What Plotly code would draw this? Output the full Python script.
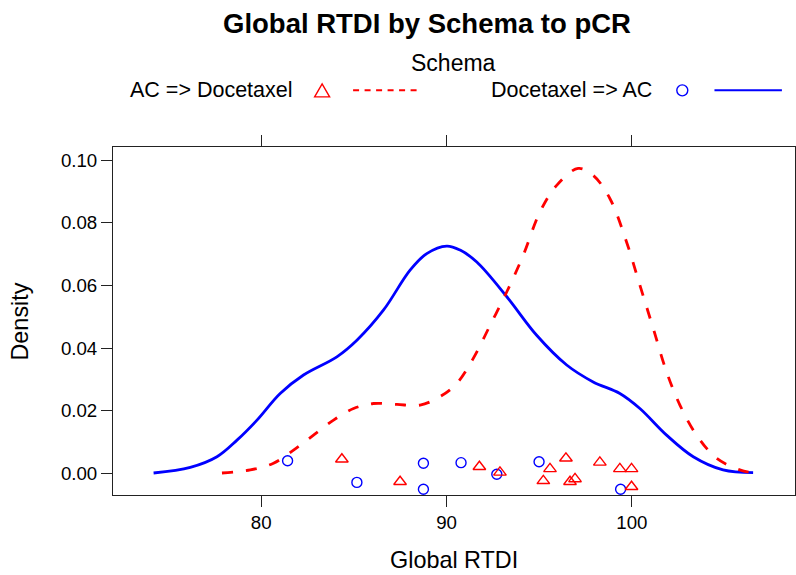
import plotly.graph_objects as go

# ---------------- data ----------------
groups = ["AC => Docetaxel", "Docetaxel => AC"]

# density curve of "Docetaxel => AC" (solid blue)
blue_x = [74.19, 76.17, 77.61, 78.69, 79.77, 81.02, 82.28, 84.08, 85.16, 86.59,
          88.03, 88.93, 90.01, 90.73, 91.63, 93.25, 94.86, 96.48, 97.91, 99.35,
          100.43, 101.87, 103.31, 104.92, 106.54]
blue_y = [0.0001, 0.0019, 0.0053, 0.0106, 0.0170, 0.0255, 0.0314, 0.0372, 0.0425, 0.0521,
          0.0649, 0.0702, 0.0726, 0.0713, 0.0675, 0.0564, 0.0441, 0.0346, 0.0292, 0.0255,
          0.0207, 0.0122, 0.0053, 0.0011, 0.0002]

# density curve of "AC => Docetaxel" (dashed red)
red_x = [77.88, 79.41, 80.66, 81.74, 82.82, 83.90, 84.98, 86.05, 87.32, 88.57,
         89.65, 90.55, 91.44, 92.35, 93.25, 94.14, 95.04, 95.94, 97.10, 97.91,
         98.81, 99.71, 100.43, 101.15, 101.87, 102.59, 103.49, 104.57, 105.82, 106.47]
red_y = [0.0001, 0.0011, 0.0032, 0.0074, 0.0122, 0.0170, 0.0207, 0.0223, 0.0220, 0.0218,
         0.0245, 0.0287, 0.0367, 0.0473, 0.0580, 0.0697, 0.0835, 0.0920, 0.0974, 0.0952,
         0.0878, 0.0739, 0.0601, 0.0463, 0.0324, 0.0218, 0.0122, 0.0048, 0.0011, 0.0002]

# jittered raw observations
blue_pts_x = [81.42, 85.16, 88.75, 88.75, 90.78, 92.71, 94.99, 99.39]
blue_pts_y = [0.0040, -0.0029, 0.0032, -0.0051, 0.0034, -0.0003, 0.0037, -0.0051]

red_pts_x = [84.35, 87.49, 91.77, 92.88, 95.22, 95.58, 96.44, 96.66, 96.93,
             98.27, 99.35, 99.98, 99.98]
red_pts_y = [0.0045, -0.0027, 0.0021, 0.0003, -0.0024, 0.0014, 0.0048, -0.0027, -0.0018,
             0.0035, 0.0014, 0.0014, -0.0043]

x_ticks = [80, 90, 100]
y_ticks = [0.00, 0.02, 0.04, 0.06, 0.08, 0.10]

RED = "#FF0000"
BLUE = "#0000FF"
FONT = "Liberation Sans, Arial, Helvetica, sans-serif"

# ---------------- geometry of the page ----------------
W, H = 796, 575
L, R, T, B = 112.7, 795.3, 146.7, 495.0
PW, PH = R - L, B - T


def px(xp):
    return (xp - L) / PW


def py(yp):
    return (B - yp) / PH


fig = go.Figure()

fig.add_trace(go.Scatter(x=blue_x, y=blue_y, mode="lines",
                         line=dict(color=BLUE, width=2.8, shape="spline",
                                   smoothing=1.0),
                         showlegend=False, name=groups[1]))
fig.add_trace(go.Scatter(x=red_x, y=red_y, mode="lines",
                         line=dict(color=RED, width=2.8, dash="11px,13px",
                                   shape="spline", smoothing=1.0),
                         showlegend=False, name=groups[0]))
fig.add_trace(go.Scatter(x=blue_pts_x, y=blue_pts_y, mode="markers",
                         marker=dict(symbol="circle-open", size=10,
                                     color=BLUE, line=dict(width=1.4, color=BLUE)),
                         showlegend=False, name=groups[1]))
fig.add_trace(go.Scatter(x=red_pts_x, y=red_pts_y, mode="markers",
                         marker=dict(symbol="triangle-up-open", size=11,
                                     color=RED, line=dict(width=1.4, color=RED)),
                         showlegend=False, name=groups[0]))

axis_common = dict(showgrid=False, zeroline=False, showline=True,
                   linecolor="#222222", linewidth=1, ticks="outside",
                   ticklen=11, tickwidth=1, tickcolor="#222222",
                   tickfont=dict(family=FONT, size=18.7, color="#000000"))

fig.update_xaxes(range=[72.0, 108.8], tickvals=x_ticks,
                 ticktext=[str(v) for v in x_ticks], mirror="ticks",
                 **axis_common)
fig.update_yaxes(range=[-0.00693, 0.10424], tickvals=y_ticks,
                 ticktext=["%.2f" % v for v in y_ticks], mirror=True,
                 **axis_common)

annotations = [
    dict(text="<b>Global RTDI by Schema to pCR</b>", x=px(427), y=py(23),
         font=dict(size=27.5, family=FONT, color="#000")),
    dict(text="Schema", x=px(453.7), y=py(63),
         font=dict(size=23, family=FONT, color="#000")),
    dict(text="AC => Docetaxel", x=px(127.5), y=py(90), xanchor="left",
         font=dict(size=21.5, family=FONT, color="#000")),
    dict(text="Docetaxel => AC", x=px(488.8), y=py(90), xanchor="left",
         font=dict(size=21.5, family=FONT, color="#000")),
    dict(text="Global RTDI", x=px(454), y=py(560.5),
         font=dict(size=23.4, family=FONT, color="#000")),
    dict(text="Density", x=px(20), y=py(321), textangle=-90,
         font=dict(size=23.4, family=FONT, color="#000")),
]
for a in annotations:
    a.setdefault("xanchor", "center")
    a.update(xref="paper", yref="paper", yanchor="middle", showarrow=False)

# legend keys
tri = [(314.5, 96.5), (329.5, 96.5), (322.0, 83.5)]
tri_path = "M %f,%f L %f,%f L %f,%f Z" % tuple(
    v for p in tri for v in (px(p[0]), py(p[1])))
shapes = [
    dict(type="path", path=tri_path, xref="paper", yref="paper",
         line=dict(color=RED, width=1.4)),
    dict(type="line", x0=px(353), x1=px(420), y0=py(90), y1=py(90),
         xref="paper", yref="paper",
         line=dict(color=RED, width=2, dash="6px,5.5px")),
    dict(type="circle", x0=px(677), x1=px(688), y0=py(84.5), y1=py(95.5),
         xref="paper", yref="paper", line=dict(color=BLUE, width=1.4)),
    dict(type="line", x0=px(714.7), x1=px(782.2), y0=py(90), y1=py(90),
         xref="paper", yref="paper", line=dict(color=BLUE, width=2)),
]

fig.update_layout(width=W, height=H,
                  margin=dict(l=L, r=W - R, t=T, b=H - B, pad=0),
                  paper_bgcolor="white", plot_bgcolor="white",
                  showlegend=False, annotations=annotations, shapes=shapes,
                  font=dict(family=FONT))

fig.write_html("out.html",
               config={"displayModeBar": False},
               post_script="document.body.style.margin='0';"
                           "document.body.style.overflow='hidden';")
